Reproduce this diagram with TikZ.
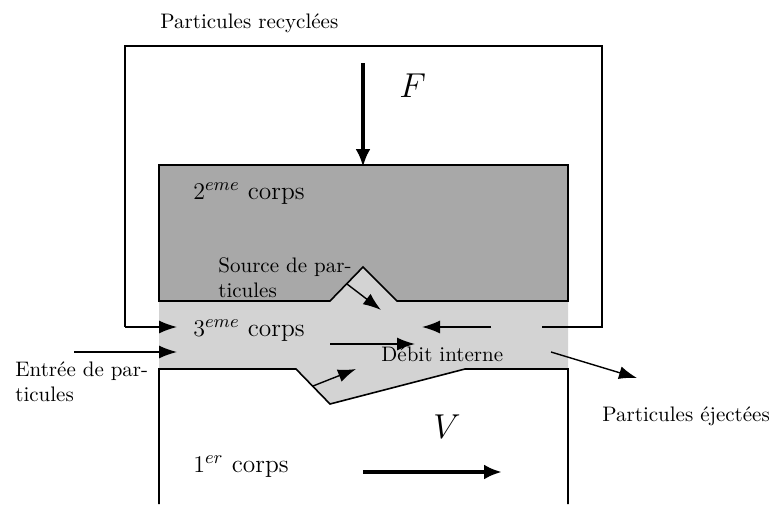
\documentclass[tikz,border=0pt]{standalone}
\usepackage{amsmath}
\usetikzlibrary{arrows.meta}
\definecolor{darkbody}{HTML}{A8A8A8}
\definecolor{lightbody}{HTML}{D3D3D3}
\newcommand{\smalltext}{\fontsize{10.5}{12.5}\selectfont}
\newcommand{\bodytext}{\fontsize{12.7}{15}\selectfont}
\tikzset{
  flow/.style={-{Latex[length=9pt,width=6.5pt]}, line width=0.7pt},
  bigflow/.style={-{Latex[length=9pt,width=7.5pt]}, line width=2pt},
  lbl/.style={anchor=base west, inner sep=0pt, font=\smalltext},
  lbltwo/.style={anchor=north west, inner sep=0pt, align=left, font=\smalltext},
  bodylbl/.style={anchor=base west, inner sep=0pt, font=\bodytext}
}
\begin{document}
\begin{tikzpicture}[x=0.5pt, y=-0.5pt]
  \useasboundingbox (0,0) rectangle (772,504);

  % Bodies
  \fill[lightbody] (159,301) -- (330,301) -- (363,267) -- (397,301) -- (568,301) -- (568,369) -- (465,369) -- (330,404) -- (296,369) -- (159,369) -- cycle;
  \draw[line width=0.8pt, fill=darkbody] (159,301) -- (159,165) -- (568,165) -- (568,301) -- (397,301) -- (363,267) -- (330,301) -- cycle;
  \draw[line width=0.8pt] (159,504) -- (159,369) -- (296,369) -- (330,404) -- (465,369) -- (568,369) -- (568,504);

  % End points
  \coordinate (loopin) at (125,327);
  \coordinate (loopinend) at (177,327);
  \coordinate (loopout) at (542,327);
  \coordinate (backstart) at (491,327);
  \coordinate (backend) at (422,327);
  \coordinate (entrystart) at (74,352);
  \coordinate (entryend) at (177,352);
  \coordinate (ejectstart) at (551,352);
  \coordinate (ejectend) at (637,378);
  \coordinate (sourcestart) at (347,284);
  \coordinate (sourceend) at (381,310);
  \coordinate (wearstart) at (313,386);
  \coordinate (wearend) at (356,369);
  \coordinate (debitstart) at (330,344);
  \coordinate (debitend) at (415,344);
  \coordinate (forcestart) at (363,63);
  \coordinate (forceend) at (363,167);
  \coordinate (speedstart) at (363,472);
  \coordinate (speedend) at (502,472);

  % Recycling loop
  \draw[line width=0.8pt] (loopout) -- (602,327) -- (602,46) -- (125,46) -- (loopin);
  \draw[flow] (loopin) -- (loopinend);
  \draw[flow] (backstart) -- (backend);

  % Flows
  \draw[flow] (entrystart) -- (entryend);
  \draw[flow] (ejectstart) -- (ejectend);
  \draw[flow] (sourcestart) -- (sourceend);
  \draw[flow] (wearstart) -- (wearend);
  \draw[flow] (debitstart) -- (debitend);
  \draw[bigflow] (forcestart) -- (forceend);
  \draw[bigflow] (speedstart) -- (speedend);

  % Labels
  \node[lbl] (recycled) at (160,28) {Particules recycl\'ees};
  \node[bodylbl] (force) at (399,97) {\LARGE $F$};
  \node[bodylbl] (second) at (193,199) {$2^{eme}$ corps};
  \node[bodylbl] (third) at (193,336) {$3^{eme}$ corps};
  \node[bodylbl] (first) at (193,472) {$1^{er}$ corps};
  \node[bodylbl] (speed) at (433,438) {\LARGE $V$};
  \node[lbl] (debit) at (381,361) {D\'ebit interne};
  \node[lbl] (ejected) at (602,421) {Particules \'eject\'ees};
  \node[lbltwo] (source) at (218,257) {Source de par-\\ticules};
  \node[lbltwo] (entry) at (15,361) {Entr\'ee de par-\\ticules};
\end{tikzpicture}
\end{document}
